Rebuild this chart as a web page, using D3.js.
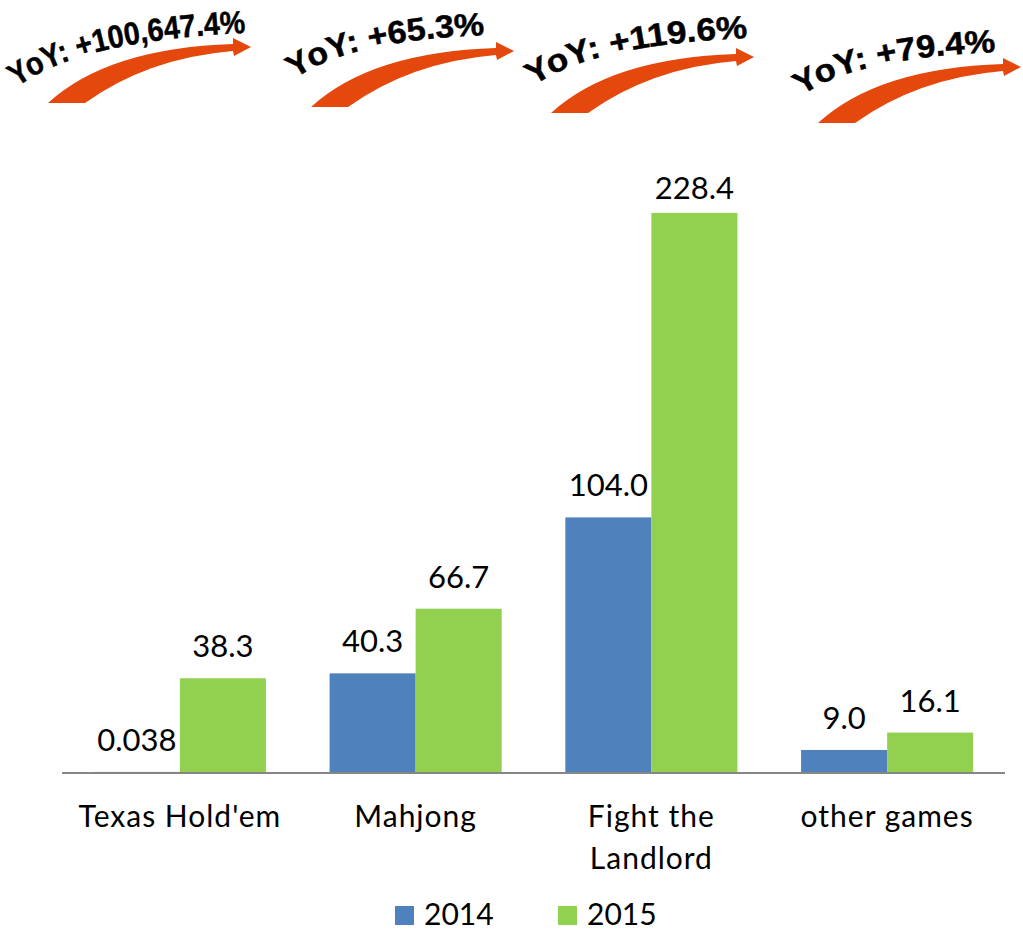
<!DOCTYPE html>
<html>
<head>
<meta charset="utf-8">
<script src="https://cdn.jsdelivr.net/npm/d3@7"></script>
<style>
  html, body { margin: 0; padding: 0; background: #fff; }
  svg { display: block; }
</style>
</head>
<body>
<svg id="chart" width="1023" height="931"></svg>
<script>
// Revenue by game type, 2014 vs 2015
const categories = ["Texas Hold'em", "Mahjong", "Fight the Landlord", "other games"];
const categoryLines = [["Texas Hold'em"], ["Mahjong"], ["Fight the", "Landlord"], ["other games"]];
const years = ["2014", "2015"];
const values2014 = [0.038, 40.3, 104.0, 9.0];
const values2015 = [38.3, 66.7, 228.4, 16.1];
const labels2014 = ["0.038", "40.3", "104.0", "9.0"];
const labels2015 = ["38.3", "66.7", "228.4", "16.1"];
const yoyLabels = ["YoY: +100,647.4%", "YoY: +65.3%", "YoY: +119.6%", "YoY: +79.4%"];

const colors = { "2014": "#4F81BD", "2015": "#92D050" };
const arrowColor = "#E5480C";
const labelFont = "Lato, 'Open Sans', sans-serif";

const svg = d3.select("#chart");
const baseY = 772;

const x0 = d3.scaleBand().domain(categories).range([62, 1005]).paddingInner(0.27).paddingOuter(0.135);
const x1 = d3.scaleBand().domain(years).range([0, x0.bandwidth()]);
const y = d3.scaleLinear().domain([0, 250]).range([baseY, 160]);

const rows = categories.map((c, i) => ({
  cat: c,
  bars: [
    { year: "2014", value: values2014[i], label: labels2014[i] },
    { year: "2015", value: values2015[i], label: labels2015[i] }
  ]
}));

// bars
const groups = svg.append("g").selectAll("g").data(rows).join("g")
  .attr("transform", d => `translate(${x0(d.cat)},0)`);

groups.selectAll("rect").data(d => d.bars).join("rect")
  .attr("x", d => x1(d.year))
  .attr("y", d => y(d.value))
  .attr("width", x1.bandwidth())
  .attr("height", d => y(0) - y(d.value))
  .attr("fill", d => colors[d.year]);

// value labels (kept inside the plot area at the top)
const plotTopBaseline = 199;
groups.selectAll("text.val").data(d => d.bars).join("text")
  .attr("class", "val")
  .attr("x", d => x1(d.year) + x1.bandwidth() / 2)
  .attr("y", d => Math.max(y(d.value) - 21, plotTopBaseline))
  .attr("text-anchor", "middle")
  .attr("font-family", labelFont)
  .attr("font-size", 31)
  .attr("fill", "#000")
  .text(d => d.label);

// category axis line
svg.append("line")
  .attr("x1", 62).attr("x2", 1005)
  .attr("y1", baseY + 1).attr("y2", baseY + 1)
  .attr("stroke", "#868686").attr("stroke-width", 2);

// category labels
const catText = svg.append("g").selectAll("text").data(categories).join("text")
  .attr("x", d => x0(d) + x0.bandwidth() / 2)
  .attr("y", 827)
  .attr("text-anchor", "middle")
  .attr("font-family", labelFont)
  .attr("font-size", 30)
  .attr("letter-spacing", 1)
  .attr("fill", "#000");
catText.each(function(d, i) {
  d3.select(this).selectAll("tspan").data(categoryLines[i]).join("tspan")
    .attr("x", x0(d) + x0.bandwidth() / 2)
    .attr("dy", (t, j) => j === 0 ? 0 : 42)
    .text(t => t);
});

// legend
const legend = svg.append("g").attr("transform", "translate(395,906)");
const legendItems = legend.selectAll("g").data(years).join("g")
  .attr("transform", (d, i) => `translate(${i * 163},0)`);
legendItems.append("rect")
  .attr("width", 19).attr("height", 19)
  .attr("fill", d => colors[d]);
legendItems.append("text")
  .attr("x", 29).attr("y", 19)
  .attr("font-family", labelFont)
  .attr("font-size", 30)
  .attr("fill", "#000")
  .text(d => d);

// YoY growth arrows with arched captions
const arrowAnchors = [[48, 103], [311, 107], [551, 113], [818, 123]];
const captionArcs = [
  { s: [-31, -16], c: [32, -63], e: [198, -70] },
  { s: [-16, -28], c: [34, -66], e: [174, -72] },
  { s: [-17, -27], c: [38, -68], e: [197, -75] },
  { s: [-16, -27], c: [34, -65], e: [178, -71] }
];
const arrowPath = "M0,0 Q60,-55 185,-59 L185,-65 L203,-56 L186,-47 L185,-52 Q100,-45 37,0 Z";

const defs = svg.append("defs");
const ann = svg.append("g").selectAll("g").data(yoyLabels).join("g")
  .attr("transform", (d, i) => `translate(${arrowAnchors[i][0]},${arrowAnchors[i][1]})`);

ann.append("path").attr("d", arrowPath).attr("fill", arrowColor);

ann.each(function(label, i) {
  const a = captionArcs[i];
  const id = "yoyArc" + i;
  const p = defs.append("path").attr("id", id)
    .attr("d", `M${a.s[0]},${a.s[1]} Q${a.c[0]},${a.c[1]} ${a.e[0]},${a.e[1]}`);
  const len = p.node().getTotalLength();
  d3.select(this).append("text")
    .attr("font-family", "'Liberation Sans', Arial, sans-serif")
    .attr("font-weight", "bold")
    .attr("font-size", 32)
    .attr("fill", "#000")
    .attr("stroke", "#000")
    .attr("stroke-width", 0.5)
    .append("textPath")
    .attr("href", "#" + id)
    .attr("textLength", len)
    .attr("lengthAdjust", "spacingAndGlyphs")
    .text(label);
});
</script>
</body>
</html>
